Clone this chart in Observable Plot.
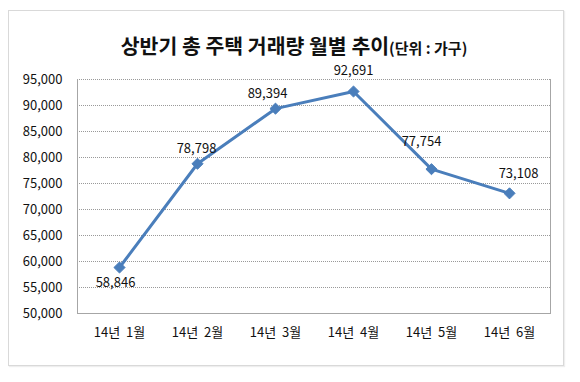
<!DOCTYPE html>
<html>
<head>
<meta charset="utf-8">
<script src="https://cdn.jsdelivr.net/npm/d3@7"></script>
<script src="https://cdn.jsdelivr.net/npm/@observablehq/plot@0.6"></script>
<style>
  html, body { margin: 0; padding: 0; background: #fff; }
  #wrap { position: relative; width: 580px; height: 382px; overflow: hidden; background: #fff; }
  #frame { position: absolute; left: 8px; top: 10px; width: 554px; height: 354px; border: 1px solid #d9d9d9; box-shadow: 1px 1px 1px #eee; }
  #title { position: absolute; left: 0; width: 580px; top: 30px; text-align: center; font-family: "Noto Sans CJK KR", sans-serif; font-weight: bold; font-size: 20.5px; color: #111; z-index: 2; white-space: nowrap; padding-left: 8px; box-sizing: border-box; }
  #title span { font-size: 15px; }
  #chart { position: absolute; left: 0; top: 0; z-index: 1; }
  #chart svg { background: transparent !important; }
</style>
</head>
<body>
<div id="wrap">
  <div id="frame"></div>
  <div id="title"></div>
  <div id="chart"></div>
</div>
<script>
const titleMain = "상반기 총 주택 거래량 월별 추이";
const titleUnit = "(단위 : 가구)";
const months = ["14년 1월", "14년 2월", "14년 3월", "14년 4월", "14년 5월", "14년 6월"];
const values = [58846, 78798, 89394, 92691, 77754, 73108];
const yTicks = [50000, 55000, 60000, 65000, 70000, 75000, 80000, 85000, 90000, 95000];

document.getElementById("title").innerHTML = titleMain + "<span>" + titleUnit + "</span>";

const data = months.map((m, i) => ({month: m, value: values[i], i}));
const fmt = d3.format(",");
const blue = "#4a7ebb";
const font = "'Noto Sans CJK KR', 'Liberation Sans', sans-serif";

function label(idx, dx, dy) {
  return Plot.text(data.filter(d => idx.includes(d.i)), {
    x: "month", y: "value", text: d => fmt(d.value), dx, dy, fontSize: 13, fill: "#111"
  });
}

const chart = Plot.plot({
  width: 580,
  height: 382,
  marginLeft: 77,
  marginRight: 30,
  marginTop: 79,
  marginBottom: 69,
  style: {fontFamily: font, fontSize: "12px", color: "#111", background: "transparent"},
  x: {type: "point", domain: months, padding: 0.5, label: null},
  y: {domain: [50000, 95000], label: null},
  marks: [
    Plot.gridY(yTicks, {stroke: "#999", strokeOpacity: 1, strokeDasharray: "1,1"}),
    Plot.frame({anchor: "left", stroke: "#a6a6a6"}),
    Plot.frame({anchor: "right", stroke: "#a6a6a6"}),
    Plot.frame({anchor: "bottom", stroke: "#a6a6a6"}),
    Plot.axisY(yTicks, {tickSize: 0, tickPadding: 15, tickFormat: fmt, fontSize: 13, letterSpacing: "0.9px"}),
    Plot.axisX({tickSize: 0, tickPadding: 14, fontSize: 13, tickFormat: d => d.replace(" ", "\u00a0\u00a0")}),
    Plot.line(data, {x: "month", y: "value", stroke: blue, strokeWidth: 3}),
    Plot.dot(data, {x: "month", y: "value", symbol: "diamond2", r: 5, fill: blue, stroke: blue, strokeWidth: 1}),
    label([0], -4, 15),
    label([1], -1, -15),
    label([2], -8, -15),
    label([3], 0, -21),
    label([4], -10, -27),
    label([5], 9, -20)
  ]
});
document.getElementById("chart").appendChild(chart);
</script>
</body>
</html>
